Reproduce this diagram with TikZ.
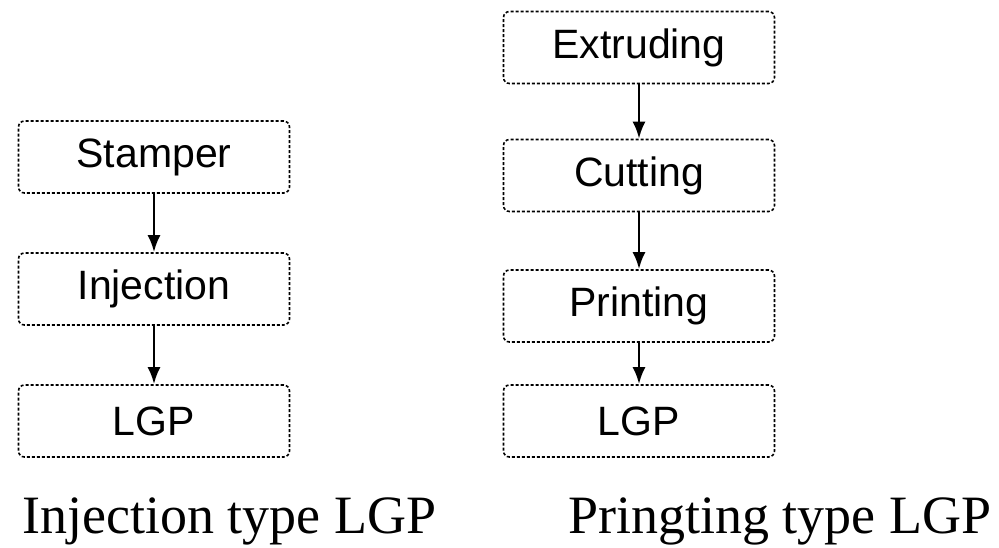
\documentclass[tikz,border=0pt]{standalone}
\usepackage{fontspec}
\setmainfont{Liberation Serif}
\newfontfamily\stepfont{Liberation Sans}
\usetikzlibrary{arrows,arrows.meta,positioning}

\begin{document}
\begin{tikzpicture}[x=1pt, y=1pt, node distance = 132pt, auto]
      \tikzstyle{block} = [rectangle, draw, densely dashed, line width=1.6pt,
                           rounded corners=6pt, minimum width=271pt,
                           minimum height=72pt, text centered,
                           font=\stepfont\fontsize{41}{41}\selectfont]
      \tikzstyle{arrow} = [draw, -{Latex[length=17pt,width=13pt]},
                           line width=2.6pt]
      \tikzstyle{caption} = [anchor=base west, inner sep=0pt,
                             font=\fontsize{54}{54}\selectfont]
      \useasboundingbox (0,0) rectangle (999,-547);
      \node[block] (stamper) at (154,-157) {Stamper};
      \node[block, below of=stamper] (injection) {Injection};
      \path[arrow] (stamper) --node {} (injection);
      \node[block, below of=injection] (lgpA) {LGP};
      \path[arrow] (injection) --node {} (lgpA);
      \node[caption] (capA) at (22,-533) {Injection type LGP};
      \node[block] (extruding) at (639,-47.5) {Extruding};
      \node[block, below of=extruding, node distance=128pt] (cutting) {Cutting};
      \path[arrow] (extruding) --node {} (cutting);
      \node[block, below of=cutting, node distance=130.5pt] (printing) {Printing};
      \path[arrow] (cutting) --node {} (printing);
      \node[block, below of=printing, node distance=115pt] (lgpB) {LGP};
      \path[arrow] (printing) --node {} (lgpB);
      \node[caption] (capB) at (568,-533) {Pringting type LGP};
    \end{tikzpicture}
\end{document}
